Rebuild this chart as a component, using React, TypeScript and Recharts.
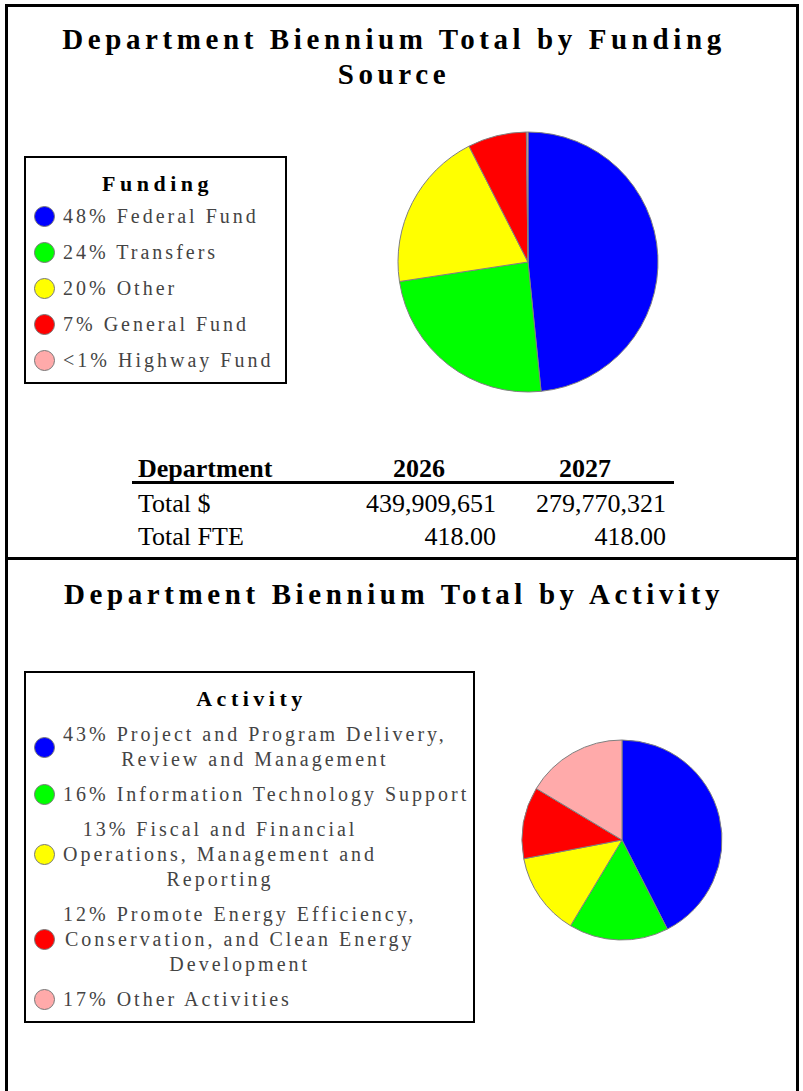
import { PieChart, Pie, Cell } from "recharts";

const fundingNames = ["Federal Fund", "Transfers", "Other", "General Fund", "Highway Fund"];
const fundingLabels = ["48%", "24%", "20%", "7%", "<1%"];
const fundingValues = [48.4, 24.2, 19.9, 7.3, 0.2];

const activityNames = [
  "Project and Program Delivery,\nReview and Management",
  "Information Technology Support",
  "Fiscal and Financial\nOperations, Management and\nReporting",
  "Promote Energy Efficiency,\nConservation, and Clean Energy\nDevelopment",
  "Other Activities",
];
const activityLabels = ["43%", "16%", "13%", "12%", "17%"];
const activityValues = [42.5, 16.1, 13.4, 11.6, 16.4];

const sliceColors = ["#0000ff", "#00ff00", "#ffff00", "#ff0000", "#ffaaaa"];

const tableYears = ["2026", "2027"];
const tableRows = ["Total $", "Total FTE"];
const tableValues = [
  ["439,909,651", "279,770,321"],
  ["418.00", "418.00"],
];

const serif = '"Liberation Serif", "Times New Roman", serif';

const titleStyle: React.CSSProperties = {
  position: "absolute",
  left: 0,
  width: 788,
  textAlign: "center",
  fontFamily: serif,
  fontWeight: "bold",
  fontSize: 29,
  letterSpacing: 4.6,
  lineHeight: "35px",
  color: "#000",
};

function LegendBox({
  title,
  labels,
  names,
  left,
  top,
  width,
  gap,
  titleGap,
}: {
  title: string;
  labels: string[];
  names: string[];
  left: number;
  top: number;
  width: number;
  gap: number;
  titleGap: number;
}) {
  return (
    <div
      style={{
        position: "absolute",
        left,
        top,
        width,
        boxSizing: "border-box",
        border: "2.5px solid #000",
        padding: "13px 4px 9px 8px",
        background: "#fff",
        fontFamily: serif,
      }}
    >
      <div
        style={{
          textAlign: "center",
          fontWeight: "bold",
          fontSize: 22,
          letterSpacing: 4.5,
          lineHeight: "25px",
          marginBottom: titleGap,
          color: "#000",
        }}
      >
        {title}
      </div>
      {names.map((name, i) => (
        <div
          key={name}
          style={{ display: "flex", alignItems: "center", marginBottom: i < names.length - 1 ? gap : 0 }}
        >
          <div
            style={{
              width: 19,
              height: 19,
              borderRadius: "50%",
              background: sliceColors[i],
              border: "1px solid #777",
              flex: "none",
              marginRight: 8,
            }}
          />
          <div
            style={{
              display: "inline-block",
              whiteSpace: "pre",
              textAlign: "center",
              fontSize: 20,
              letterSpacing: 3,
              lineHeight: "25px",
              color: "#444",
            }}
          >
            {`${labels[i]} ${name}`}
          </div>
        </div>
      ))}
    </div>
  );
}

export default function App() {
  const fundingData = fundingNames.map((name, i) => ({ name, value: fundingValues[i] }));
  const activityData = activityNames.map((name, i) => ({ name, value: activityValues[i] }));

  const cellStyle: React.CSSProperties = {
    position: "absolute",
    fontFamily: serif,
    fontSize: 26,
    lineHeight: "33px",
    color: "#000",
  };

  return (
    <div
      style={{
        position: "absolute",
        left: 0,
        top: 0,
        width: 803,
        height: 1091,
        background: "#fff",
        overflow: "hidden",
      }}
    >
      {/* frame */}
      <div
        style={{
          position: "absolute",
          left: 5,
          top: 4,
          width: 794,
          height: 1100,
          boxSizing: "border-box",
          borderTop: "3px solid #000",
          borderLeft: "3px solid #000",
          borderRight: "3px solid #000",
        }}
      />
      <div style={{ position: "absolute", left: 5, top: 557, width: 794, height: 3, background: "#000" }} />

      {/* funding section */}
      <div style={{ ...titleStyle, top: 22 }}>
        Department Biennium Total by Funding
        <br />
        Source
      </div>
      <div style={{ position: "absolute", left: 0, top: 0 }}>
        <PieChart width={803} height={556} margin={{ top: 0, right: 0, bottom: 0, left: 0 }}>
          <Pie
            data={fundingData}
            dataKey="value"
            nameKey="name"
            cx={528}
            cy={262}
            outerRadius={130}
            startAngle={90}
            endAngle={-270}
            stroke="#808080"
            strokeWidth={1}
            isAnimationActive={false}
          >
            {fundingData.map((d, i) => (
              <Cell key={d.name} fill={sliceColors[i]} />
            ))}
          </Pie>
        </PieChart>
      </div>
      <LegendBox
        title="Funding"
        labels={fundingLabels}
        names={fundingNames}
        left={24}
        top={156}
        width={263}
        gap={11}
        titleGap={8}
      />

      {/* department table */}
      <div style={{ ...cellStyle, left: 138, top: 452, fontWeight: "bold" }}>Department</div>
      {tableYears.map((y, j) => (
        <div
          key={y}
          style={{ ...cellStyle, left: j === 0 ? 369 : 535, width: 100, textAlign: "center", top: 452, fontWeight: "bold" }}
        >
          {y}
        </div>
      ))}
      <div style={{ position: "absolute", left: 132, top: 481, width: 542, height: 2.5, background: "#000" }} />
      {tableRows.map((r, i) => (
        <div key={r}>
          <div style={{ ...cellStyle, left: 138, top: 487 + i * 33 }}>{r}</div>
          {tableValues[i].map((v, j) => (
            <div
              key={j}
              style={{ ...cellStyle, left: j === 0 ? 296 : 466, width: 200, textAlign: "right", top: 487 + i * 33 }}
            >
              {v}
            </div>
          ))}
        </div>
      ))}

      {/* activity section */}
      <div style={{ ...titleStyle, top: 577 }}>Department Biennium Total by Activity</div>
      <div style={{ position: "absolute", left: 0, top: 560 }}>
        <PieChart width={803} height={531} margin={{ top: 0, right: 0, bottom: 0, left: 0 }}>
          <Pie
            data={activityData}
            dataKey="value"
            nameKey="name"
            cx={622}
            cy={280}
            outerRadius={100}
            startAngle={90}
            endAngle={-270}
            stroke="#808080"
            strokeWidth={1}
            isAnimationActive={false}
          >
            {activityData.map((d, i) => (
              <Cell key={d.name} fill={sliceColors[i]} />
            ))}
          </Pie>
        </PieChart>
      </div>
      <LegendBox
        title="Activity"
        labels={activityLabels}
        names={activityNames}
        left={24}
        top={671}
        width={451}
        gap={10}
        titleGap={11}
      />
    </div>
  );
}
